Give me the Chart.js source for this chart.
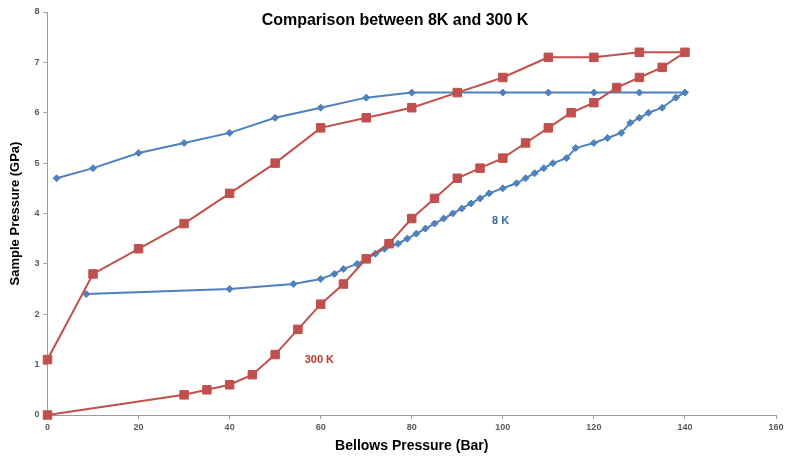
<!DOCTYPE html>
<html>
<head>
<meta charset="utf-8">
<script src="https://cdn.jsdelivr.net/npm/chart.js@4"></script>
<style>
  html, body { margin: 0; padding: 0; background: #fff; }
  #wrap { width: 789px; height: 459px; position: relative; }
</style>
</head>
<body>
<div id="wrap"><canvas id="pressureChart"></canvas></div>
<script>
const chartTitle = 'Comparison between 8K and 300 K';
const xAxisTitle = 'Bellows Pressure (Bar)';
const yAxisTitle = 'Sample Pressure (GPa)';

const xTickValues = [0, 20, 40, 60, 80, 100, 120, 140, 160];
const yTickValues = [0, 1, 2, 3, 4, 5, 6, 7, 8];

// 300 K run: up-stroke then back down
const warmX = [0, 30, 35, 40, 45, 50, 55, 60, 65, 70, 75, 80, 85, 90, 95, 100, 105, 110, 115, 120, 125, 130, 135, 140,
               130, 120, 110, 100, 90, 80, 70, 60, 50, 40, 30, 20, 10, 0];
const warmY = [0, 0.4, 0.5, 0.6, 0.8, 1.2, 1.7, 2.2, 2.6, 3.1, 3.4, 3.9, 4.3, 4.7, 4.9, 5.1, 5.4, 5.7, 6.0, 6.2, 6.5, 6.7, 6.9, 7.2,
               7.2, 7.1, 7.1, 6.7, 6.4, 6.1, 5.9, 5.7, 5.0, 4.4, 3.8, 3.3, 2.8, 1.1];

// 8 K run
const coldX = [8.5, 40, 54, 60, 63, 65, 68, 70, 72, 74, 77, 79, 81, 83, 85, 87, 89, 91, 93, 95,
               97, 100, 103, 105, 107, 109, 111, 114, 116, 120, 123, 126, 128, 130, 132, 135, 138, 140,
               130, 120, 110, 100, 90, 80, 70, 60, 50, 40, 30, 20, 10, 2];
const coldY = [2.4, 2.5, 2.6, 2.7, 2.8, 2.9, 3.0, 3.1, 3.2, 3.3, 3.4, 3.5, 3.6, 3.7, 3.8, 3.9, 4.0, 4.1, 4.2, 4.3,
               4.4, 4.5, 4.6, 4.7, 4.8, 4.9, 5.0, 5.1, 5.3, 5.4, 5.5, 5.6, 5.8, 5.9, 6.0, 6.1, 6.3, 6.4,
               6.4, 6.4, 6.4, 6.4, 6.4, 6.4, 6.3, 6.1, 5.9, 5.6, 5.4, 5.2, 4.9, 4.7];

// where the series labels sit, in data units
const warmLabel = { text: '300 K', x: 59.7, y: 1.09 };
const coldLabel = { text: '8 K', x: 99.5, y: 3.85 };

function toPoints(xs, ys) {
  return xs.map((x, i) => ({ x: x, y: ys[i] }));
}

const FONT = '"Liberation Sans", Arial, sans-serif';

const textPlugin = {
  id: 'chartText',
  afterDraw(chart) {
    const ctx = chart.ctx;
    const xs = chart.scales.x;
    const ys = chart.scales.y;
    ctx.save();
    ctx.textAlign = 'center';
    ctx.textBaseline = 'middle';

    ctx.font = 'bold 16px ' + FONT;
    ctx.fillStyle = '#000';
    ctx.fillText(chartTitle, 395, 20.5);

    ctx.font = 'bold 11px ' + FONT;
    ctx.fillStyle = '#c0392b';
    ctx.fillText(warmLabel.text, xs.getPixelForValue(warmLabel.x), ys.getPixelForValue(warmLabel.y));
    ctx.fillStyle = '#3b68a3';
    ctx.fillText(coldLabel.text, xs.getPixelForValue(coldLabel.x), ys.getPixelForValue(coldLabel.y));
    ctx.restore();
  }
};

const ctx = document.getElementById('pressureChart').getContext('2d');

new Chart(ctx, {
  type: 'scatter',
  data: {
    datasets: [{
      label: '300 K',
      data: toPoints(warmX, warmY),
      showLine: true,
      clip: false,
      borderColor: '#c0504d',
      backgroundColor: '#c0504d',
      borderWidth: 2,
      pointStyle: 'rect',
      pointRadius: 6,
      pointBorderWidth: 1,
      tension: 0
    }, {
      label: '8 K',
      data: toPoints(coldX, coldY),
      showLine: true,
      clip: false,
      borderColor: '#4f81bd',
      backgroundColor: '#4f81bd',
      borderWidth: 2,
      pointStyle: 'rectRot',
      pointRadius: 3.5,
      pointBorderWidth: 1,
      tension: 0
    }]
  },
  options: {
    responsive: true,
    maintainAspectRatio: false,
    animation: false,
    layout: { padding: { top: 12, right: 13, left: 0, bottom: 0 } },
    plugins: {
      legend: { display: false },
      tooltip: { enabled: false }
    },
    scales: {
      x: {
        type: 'linear',
        min: 0,
        max: 160,
        afterBuildTicks: axis => { axis.ticks = xTickValues.map(v => ({ value: v })); },
        afterFit: scale => { scale.height = 44; },
        grid: { drawOnChartArea: false, drawTicks: true, tickLength: 4, color: '#9a9a9a' },
        border: { display: true, color: '#9a9a9a', width: 1 },
        ticks: { padding: 3, color: '#595959', font: { family: FONT, size: 9, weight: 'bold' }, maxRotation: 0 },
        title: { display: true, text: xAxisTitle, color: '#000', font: { family: FONT, size: 14, weight: 'bold' }, padding: { top: 0, bottom: 4 } }
      },
      y: {
        type: 'linear',
        min: 0,
        max: 8,
        afterBuildTicks: axis => { axis.ticks = yTickValues.map(v => ({ value: v })); },
        afterFit: scale => { scale.width = 47.5; },
        grid: { drawOnChartArea: false, drawTicks: true, tickLength: 4, color: '#9a9a9a' },
        border: { display: true, color: '#9a9a9a', width: 1 },
        ticks: { padding: 4, color: '#595959', font: { family: FONT, size: 9, weight: 'bold' } },
        title: { display: true, text: yAxisTitle, color: '#000', font: { family: FONT, size: 13, weight: 'bold' }, padding: { top: 8, bottom: 0 } }
      }
    }
  },
  plugins: [textPlugin]
});
</script>
</body>
</html>
